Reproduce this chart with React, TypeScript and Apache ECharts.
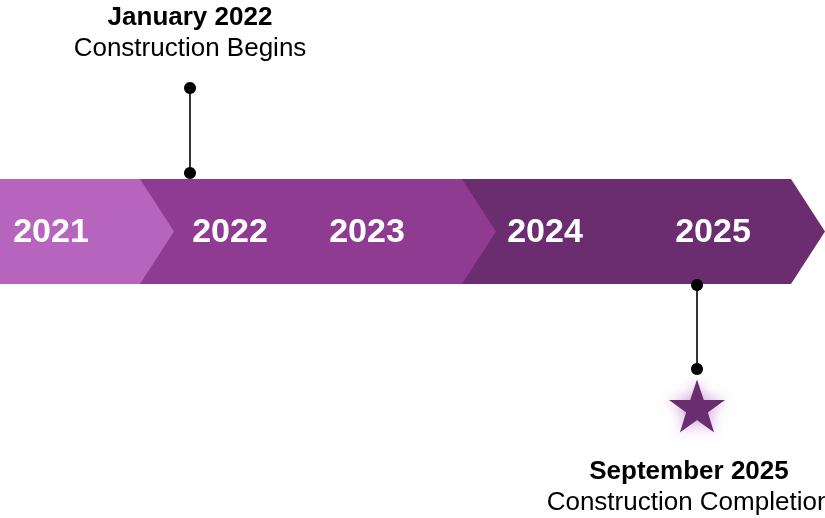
import React, { useEffect, useRef } from "react";
import * as echarts from "echarts";

// ---- data ----
const years = ["2021", "2022", "2023", "2024", "2025"];
const yearPos = [51, 230, 367, 545, 713];
const phaseStart = [0, 140, 462];
const phaseEnd = [140, 462, 791];
const milestoneDates = ["January 2022", "September 2025"];
const milestoneTexts = ["Construction Begins", "Construction Completion"];
const milestonePos = [190, 697];
const milestoneSide = ["above", "below"];

// ---- styles / layout ----
const W = 825;
const H = 518;
const phaseColors = ["#B764BE", "#8E3B91", "#6B2D6F"];
const bandTop = 179;
const bandBottom = 284;
const bandMid = (bandTop + bandBottom) / 2;
const tipW = 34;
const FONT = "'Liberation Sans', Arial, sans-serif";
const STAR =
  "path://M50,0 L61.8,35.1 L98.1,35.1 L68.8,56.7 L79.4,91 L50,70 L20.6,91 L31.2,56.7 L1.9,35.1 L38.2,35.1 Z";

export default function App() {
  const ref = useRef<HTMLDivElement>(null);
  useEffect(() => {
    if (!ref.current) return;
    const chart = echarts.init(ref.current, undefined, { renderer: "svg" });

    const phaseData = phaseStart.map((s, i) => [s, phaseEnd[i], i]).reverse();
    const connectorData = milestonePos.map((x, i) => [x, milestoneSide[i] === "above" ? 0 : 1]);
    const labelData = milestonePos.map((x, i) =>
      milestoneSide[i] === "above"
        ? { value: [x, 31.5], name: String(i) }
        : { value: [x - 8, 485.5], name: String(i) }
    );
    const starData = milestonePos
      .map((x, i) => (milestoneSide[i] === "below" ? [x, 406] : null))
      .filter(Boolean);

    chart.setOption({
      animation: false,
      grid: { left: 0, right: 0, top: 0, bottom: 0 },
      xAxis: { type: "value", min: 0, max: W, show: false },
      yAxis: { type: "value", min: 0, max: H, inverse: true, show: false },
      series: [
        {
          type: "custom",
          silent: true,
          data: phaseData,
          z: 1,
          renderItem: (params: any, api: any) => {
            const s = api.value(0);
            const e = api.value(1);
            const ci = api.value(2);
            const p = (x: number, y: number) => api.coord([x, y]);
            return {
              type: "polygon",
              shape: {
                points: [
                  p(s, bandTop),
                  p(e, bandTop),
                  p(e + tipW, bandMid),
                  p(e, bandBottom),
                  p(s, bandBottom),
                ],
              },
              style: { fill: phaseColors[ci] },
            };
          },
        },
        {
          type: "scatter",
          silent: true,
          z: 3,
          symbolSize: 1,
          itemStyle: { color: "rgba(0,0,0,0)", opacity: 1 },
          data: years.map((y, i) => ({ value: [yearPos[i], bandMid - 1.5], name: y })),
          label: {
            show: true,
            position: "inside",
            formatter: (p: any) => p.name,
            color: "#ffffff",
            opacity: 1,
            fontFamily: FONT,
            fontWeight: "bold",
            fontSize: 34,
          },
        },
        {
          type: "custom",
          silent: true,
          z: 4,
          data: connectorData,
          renderItem: (params: any, api: any) => {
            const x = api.value(0);
            const below = api.value(1) === 1;
            const y1 = below ? 285 : 88;
            const y2 = below ? 369 : 173;
            const a = api.coord([x, y1]);
            const b = api.coord([x, y2]);
            return {
              type: "group",
              children: [
                {
                  type: "line",
                  shape: { x1: a[0], y1: a[1], x2: b[0], y2: b[1] },
                  style: { stroke: "#000", lineWidth: 1.6 },
                },
                { type: "circle", shape: { cx: a[0], cy: a[1], r: 6 }, style: { fill: "#000" } },
                { type: "circle", shape: { cx: b[0], cy: b[1], r: 6 }, style: { fill: "#000" } },
              ],
            };
          },
        },
        {
          type: "scatter",
          silent: true,
          z: 5,
          symbol: STAR,
          symbolSize: [56, 53],
          data: starData,
          itemStyle: {
            color: "#6B2D6F",
            opacity: 1,
            shadowBlur: 14,
            shadowColor: "rgba(205,150,215,0.95)",
          },
        },
        {
          type: "scatter",
          silent: true,
          z: 6,
          symbolSize: 1,
          itemStyle: { color: "rgba(0,0,0,0)", opacity: 1 },
          data: labelData,
          label: {
            show: true,
            position: "inside",
            opacity: 1,
            formatter: (p: any) => {
              const i = Number(p.name);
              return `{d|${milestoneDates[i]}}\n{t|${milestoneTexts[i]}}`;
            },
            rich: {
              d: {
                fontFamily: FONT,
                fontWeight: "bold",
                fontSize: 26,
                lineHeight: 31,
                color: "#000",
                align: "center",
              },
              t: {
                fontFamily: FONT,
                fontSize: 26,
                lineHeight: 31,
                color: "#000",
                align: "center",
              },
            },
          },
        },
      ],
    });
    return () => chart.dispose();
  }, []);
  return (
    <div
      ref={ref}
      style={{ position: "fixed", left: 0, top: 0, width: W, height: H }}
    />
  );
}
